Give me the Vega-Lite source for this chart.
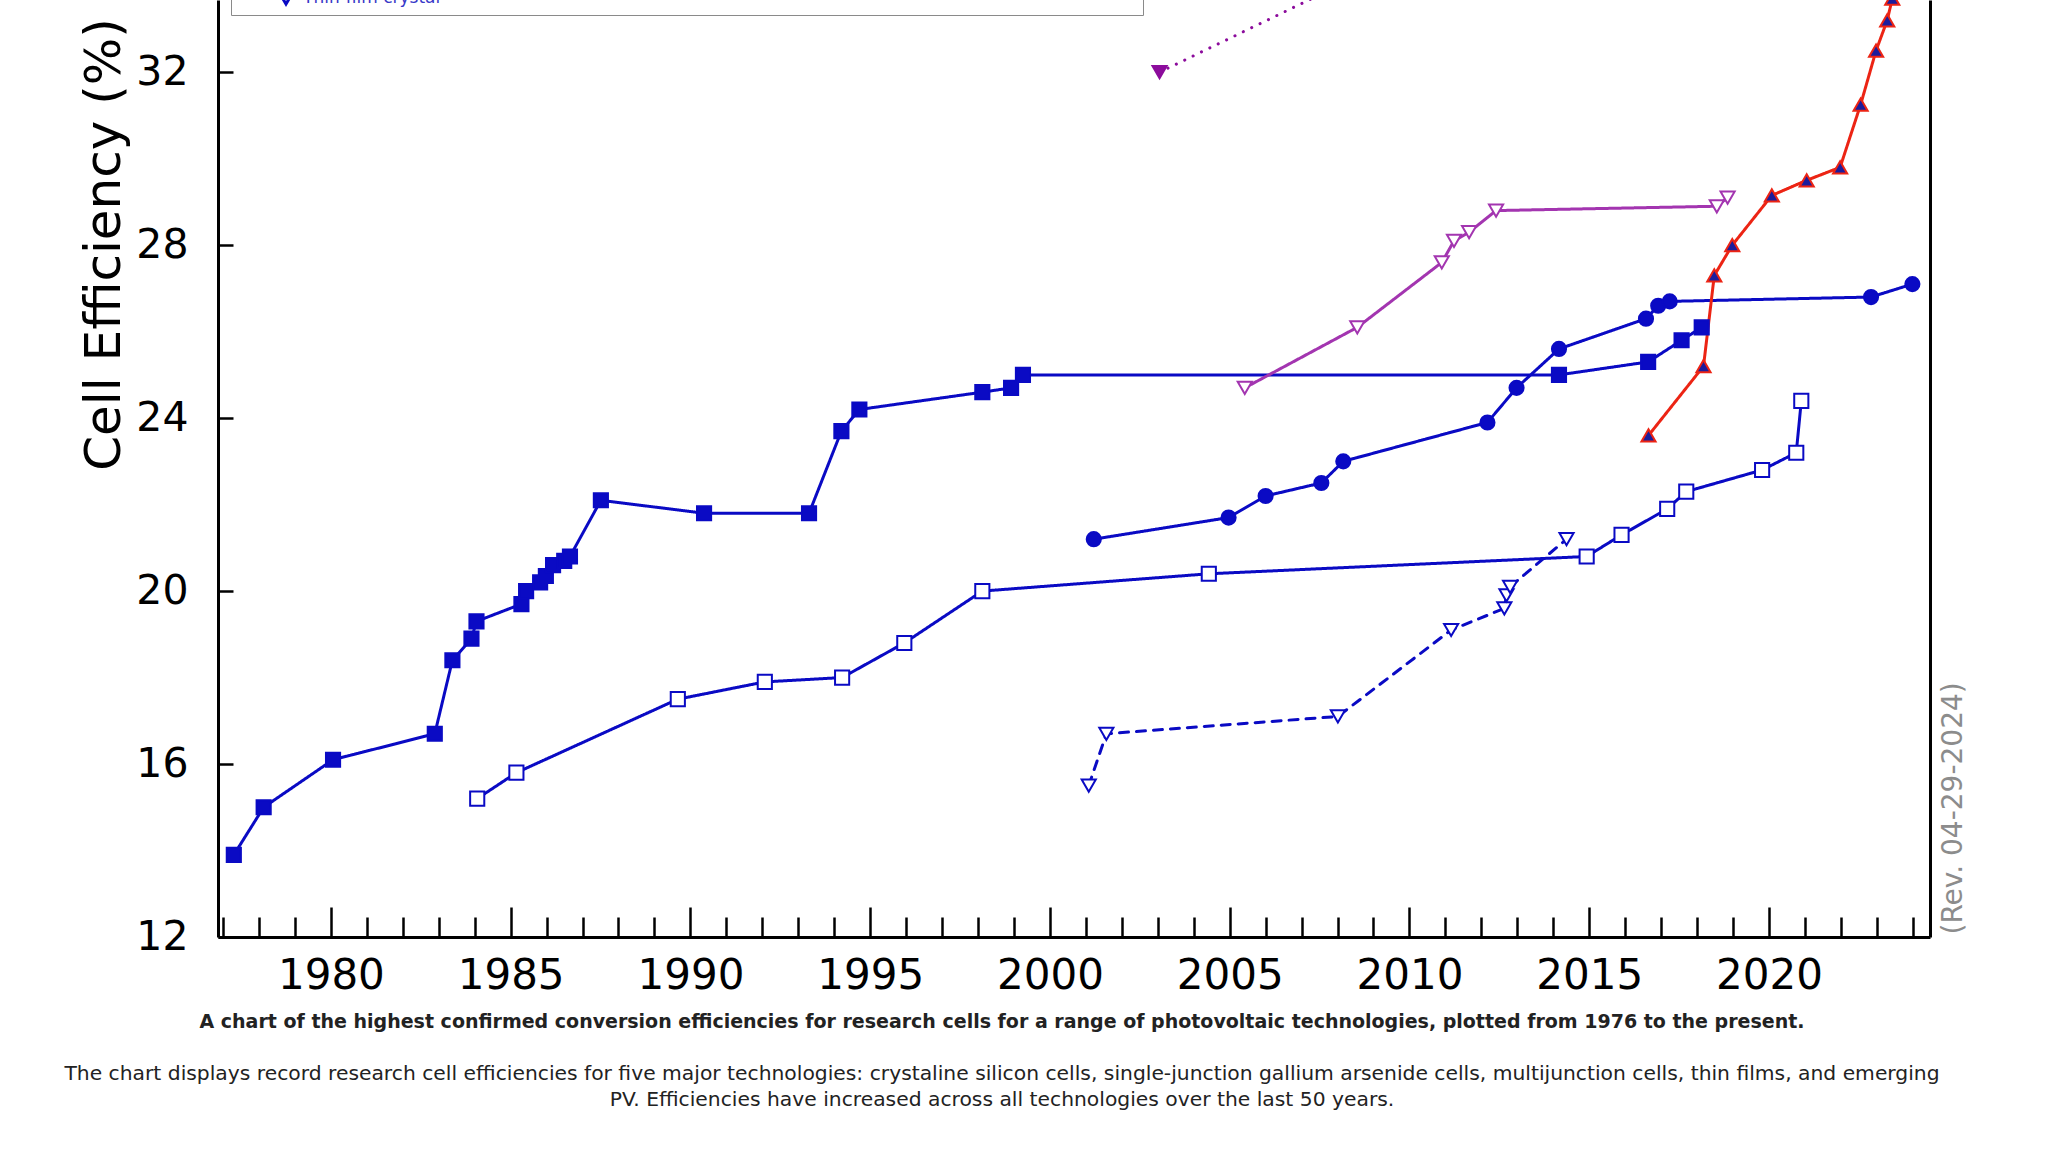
{
  "$schema": "https://vega.github.io/schema/vega-lite/v6.json",
  "width": 1712,
  "height": 937,
  "autosize": {"type": "none"},
  "padding": {"left": 218, "top": 0, "right": 118, "bottom": 215},
  "background": "white",
  "config": {
    "view": {"stroke": null},
    "font": "DejaVu Sans"
  },
  "title": {
    "text": "A chart of the highest confirmed conversion efficiencies for research cells for a range of photovoltaic technologies, plotted from 1976 to the present.",
    "subtitle": [
      "The chart displays record research cell efficiencies for five major technologies: crystaline silicon cells, single-junction gallium arsenide cells, multijunction cells, thin films, and emerging",
      "PV. Efficiencies have increased across all technologies over the last 50 years."
    ],
    "orient": "bottom",
    "anchor": "middle",
    "frame": "group",
    "dx": -72,
    "offset": 7,
    "font": "DejaVu Sans",
    "fontSize": 19,
    "fontWeight": "bold",
    "color": "#222222",
    "subtitleFont": "DejaVu Sans",
    "subtitleFontSize": 20.3,
    "subtitleColor": "#222222",
    "subtitlePadding": 32,
    "subtitleLineHeight": 26
  },
  "data": {
    "values": [
      {"series": "Single crystal (non-concentrator)", "year": 1977.3, "efficiency": 13.9},
      {"series": "Single crystal (non-concentrator)", "year": 1978.13, "efficiency": 15.0},
      {"series": "Single crystal (non-concentrator)", "year": 1980.06, "efficiency": 16.1},
      {"series": "Single crystal (non-concentrator)", "year": 1982.89, "efficiency": 16.7},
      {"series": "Single crystal (non-concentrator)", "year": 1983.38, "efficiency": 18.4},
      {"series": "Single crystal (non-concentrator)", "year": 1983.91, "efficiency": 18.9},
      {"series": "Single crystal (non-concentrator)", "year": 1984.05, "efficiency": 19.3},
      {"series": "Single crystal (non-concentrator)", "year": 1985.3, "efficiency": 19.7},
      {"series": "Single crystal (non-concentrator)", "year": 1985.43, "efficiency": 20.0},
      {"series": "Single crystal (non-concentrator)", "year": 1985.82, "efficiency": 20.2},
      {"series": "Single crystal (non-concentrator)", "year": 1985.98, "efficiency": 20.35},
      {"series": "Single crystal (non-concentrator)", "year": 1986.18, "efficiency": 20.6},
      {"series": "Single crystal (non-concentrator)", "year": 1986.49, "efficiency": 20.7},
      {"series": "Single crystal (non-concentrator)", "year": 1986.65, "efficiency": 20.8},
      {"series": "Single crystal (non-concentrator)", "year": 1987.51, "efficiency": 22.1},
      {"series": "Single crystal (non-concentrator)", "year": 1990.38, "efficiency": 21.8},
      {"series": "Single crystal (non-concentrator)", "year": 1993.3, "efficiency": 21.8},
      {"series": "Single crystal (non-concentrator)", "year": 1994.2, "efficiency": 23.7},
      {"series": "Single crystal (non-concentrator)", "year": 1994.7, "efficiency": 24.2},
      {"series": "Single crystal (non-concentrator)", "year": 1998.12, "efficiency": 24.6},
      {"series": "Single crystal (non-concentrator)", "year": 1998.92, "efficiency": 24.7},
      {"series": "Single crystal (non-concentrator)", "year": 1999.25, "efficiency": 25.0},
      {"series": "Single crystal (non-concentrator)", "year": 2014.16, "efficiency": 25.0},
      {"series": "Single crystal (non-concentrator)", "year": 2016.64, "efficiency": 25.3},
      {"series": "Single crystal (non-concentrator)", "year": 2017.57, "efficiency": 25.8},
      {"series": "Single crystal (non-concentrator)", "year": 2018.13, "efficiency": 26.1},

      {"series": "Multicrystalline", "year": 1984.07, "efficiency": 15.2},
      {"series": "Multicrystalline", "year": 1985.16, "efficiency": 15.8},
      {"series": "Multicrystalline", "year": 1989.65, "efficiency": 17.5},
      {"series": "Multicrystalline", "year": 1992.07, "efficiency": 17.9},
      {"series": "Multicrystalline", "year": 1994.22, "efficiency": 18.0},
      {"series": "Multicrystalline", "year": 1995.95, "efficiency": 18.8},
      {"series": "Multicrystalline", "year": 1998.12, "efficiency": 20.0},
      {"series": "Multicrystalline", "year": 2004.42, "efficiency": 20.4},
      {"series": "Multicrystalline", "year": 2014.93, "efficiency": 20.8},
      {"series": "Multicrystalline", "year": 2015.9, "efficiency": 21.3},
      {"series": "Multicrystalline", "year": 2017.17, "efficiency": 21.9},
      {"series": "Multicrystalline", "year": 2017.7, "efficiency": 22.3},
      {"series": "Multicrystalline", "year": 2019.81, "efficiency": 22.8},
      {"series": "Multicrystalline", "year": 2020.76, "efficiency": 23.2},
      {"series": "Multicrystalline", "year": 2020.9, "efficiency": 24.4},

      {"series": "Silicon heterostructures (HIT)", "year": 2001.22, "efficiency": 21.2},
      {"series": "Silicon heterostructures (HIT)", "year": 2004.97, "efficiency": 21.7},
      {"series": "Silicon heterostructures (HIT)", "year": 2006.0, "efficiency": 22.2},
      {"series": "Silicon heterostructures (HIT)", "year": 2007.55, "efficiency": 22.5},
      {"series": "Silicon heterostructures (HIT)", "year": 2008.16, "efficiency": 23.0},
      {"series": "Silicon heterostructures (HIT)", "year": 2012.17, "efficiency": 23.9},
      {"series": "Silicon heterostructures (HIT)", "year": 2012.98, "efficiency": 24.7},
      {"series": "Silicon heterostructures (HIT)", "year": 2014.16, "efficiency": 25.6},
      {"series": "Silicon heterostructures (HIT)", "year": 2016.58, "efficiency": 26.3},
      {"series": "Silicon heterostructures (HIT)", "year": 2016.92, "efficiency": 26.6},
      {"series": "Silicon heterostructures (HIT)", "year": 2017.24, "efficiency": 26.7},
      {"series": "Silicon heterostructures (HIT)", "year": 2022.84, "efficiency": 26.8},
      {"series": "Silicon heterostructures (HIT)", "year": 2023.99, "efficiency": 27.1},

      {"series": "GaAs thin-film crystal", "year": 2005.42, "efficiency": 24.7},
      {"series": "GaAs thin-film crystal", "year": 2008.55, "efficiency": 26.1},
      {"series": "GaAs thin-film crystal", "year": 2010.9, "efficiency": 27.6},
      {"series": "GaAs thin-film crystal", "year": 2011.24, "efficiency": 28.1},
      {"series": "GaAs thin-film crystal", "year": 2011.66, "efficiency": 28.3},
      {"series": "GaAs thin-film crystal", "year": 2012.41, "efficiency": 28.8},
      {"series": "GaAs thin-film crystal", "year": 2018.55, "efficiency": 28.9},
      {"series": "GaAs thin-film crystal", "year": 2018.85, "efficiency": 29.1},

      {"series": "Three-junction (non-concentrator)", "year": 2003.05, "efficiency": 32.0},
      {"series": "Three-junction (non-concentrator)", "year": 2013.0, "efficiency": 36.0},

      {"series": "Perovskite/Si tandem (monolithic)", "year": 2016.65, "efficiency": 23.6},
      {"series": "Perovskite/Si tandem (monolithic)", "year": 2018.18, "efficiency": 25.2},
      {"series": "Perovskite/Si tandem (monolithic)", "year": 2018.48, "efficiency": 27.3},
      {"series": "Perovskite/Si tandem (monolithic)", "year": 2018.98, "efficiency": 28.0},
      {"series": "Perovskite/Si tandem (monolithic)", "year": 2020.08, "efficiency": 29.15},
      {"series": "Perovskite/Si tandem (monolithic)", "year": 2021.05, "efficiency": 29.5},
      {"series": "Perovskite/Si tandem (monolithic)", "year": 2021.98, "efficiency": 29.8},
      {"series": "Perovskite/Si tandem (monolithic)", "year": 2022.55, "efficiency": 31.25},
      {"series": "Perovskite/Si tandem (monolithic)", "year": 2022.98, "efficiency": 32.5},
      {"series": "Perovskite/Si tandem (monolithic)", "year": 2023.29, "efficiency": 33.2},
      {"series": "Perovskite/Si tandem (monolithic)", "year": 2023.43, "efficiency": 33.7},

      {"series": "Thin-film crystal", "year": 2001.08, "efficiency": 15.5},
      {"series": "Thin-film crystal", "year": 2001.57, "efficiency": 16.7},
      {"series": "Thin-film crystal", "year": 2008.01, "efficiency": 17.1},
      {"series": "Thin-film crystal", "year": 2011.16, "efficiency": 19.1},
      {"series": "Thin-film crystal", "year": 2012.64, "efficiency": 19.6},
      {"series": "Thin-film crystal", "year": 2012.7, "efficiency": 19.9},
      {"series": "Thin-film crystal", "year": 2012.8, "efficiency": 20.1},
      {"series": "Thin-film crystal", "year": 2014.37, "efficiency": 21.2}
    ]
  },
  "encoding": {
    "x": {
      "field": "year",
      "type": "quantitative",
      "scale": {"domain": [1976.86, 2024.48], "nice": false, "zero": false},
      "axis": {
        "title": null,
        "grid": false,
        "values": [1977, 1978, 1979, 1980, 1981, 1982, 1983, 1984, 1985, 1986, 1987, 1988, 1989, 1990, 1991, 1992, 1993, 1994, 1995, 1996, 1997, 1998, 1999, 2000, 2001, 2002, 2003, 2004, 2005, 2006, 2007, 2008, 2009, 2010, 2011, 2012, 2013, 2014, 2015, 2016, 2017, 2018, 2019, 2020, 2021, 2022, 2023, 2024],
        "format": "d",
        "labelExpr": "datum.value % 5 === 0 ? datum.label : ''",
        "tickSize": {"condition": {"test": "datum.value % 5 === 0", "value": -30}, "value": -20},
        "tickWidth": 2.5,
        "tickColor": "black",
        "domainColor": "black",
        "domainWidth": 3,
        "labelFont": "DejaVu Sans",
        "labelFontSize": 42,
        "labelColor": "black",
        "labelPadding": 48,
        "labelOverlap": false,
        "labelFlush": false,
        "labelBound": false
      }
    }
  },
  "layer": [
    {
      "mark": {"type": "line", "clip": true, "strokeCap": "round", "strokeJoin": "round"},
      "encoding": {
        "y": {
          "field": "efficiency",
          "type": "quantitative",
          "scale": {"domain": [12, 33.67], "nice": false, "zero": false},
          "axis": {
            "orient": "left",
            "grid": false,
            "values": [12, 16, 20, 24, 28, 32],
            "tickSize": -15,
            "tickWidth": 2.5,
            "tickColor": "black",
            "domainColor": "black",
            "domainWidth": 3,
            "labelFont": "DejaVu Sans",
            "labelFontSize": 41,
            "labelColor": "black",
            "labelPadding": 45,
            "title": "Cell Efficiency (%)",
            "titleFont": "DejaVu Sans",
            "titleFontSize": 50,
            "titleFontWeight": "normal",
            "titleColor": "black",
            "titleAngle": 270,
            "titleAlign": "center",
            "titleBaseline": "middle",
            "titleX": -114,
            "titleY": 244
          }
        },
        "stroke": {
          "field": "series",
          "type": "nominal",
          "title": null,
          "scale": {
            "domain": ["Single crystal (non-concentrator)", "Multicrystalline", "Silicon heterostructures (HIT)", "GaAs thin-film crystal", "Three-junction (non-concentrator)", "Perovskite/Si tandem (monolithic)", "Thin-film crystal"],
            "range": ["#0a0ac4", "#0a0ac4", "#0a0ac4", "#a335b0", "#8c0c9c", "#ec2414", "#0a0ac4"]
          },
          "legend": {
            "values": ["Single crystal (non-concentrator)", "Multicrystalline", "Silicon heterostructures (HIT)", "GaAs thin-film crystal", "Three-junction (non-concentrator)", "Perovskite/Si tandem (monolithic)", "Thin-film crystal"],
            "orient": "none",
            "direction": "horizontal",
            "legendX": 13,
            "legendY": -84,
            "columns": 3,
            "columnPadding": 55,
            "rowPadding": 8,
            "padding": 4,
            "fillColor": "white",
            "strokeColor": "#8a8a8a",
            "labelFont": "DejaVu Sans",
            "labelFontSize": 17,
            "labelColor": "#3838c8",
            "labelLimit": 200,
            "symbolOffset": 42,
            "labelOffset": 8,
            "symbolSize": 180,
            "symbolStrokeWidth": 2
          }
        },
        "strokeDash": {
          "field": "series",
          "type": "nominal",
          "legend": null,
          "scale": {
            "domain": ["Single crystal (non-concentrator)", "Multicrystalline", "Silicon heterostructures (HIT)", "GaAs thin-film crystal", "Three-junction (non-concentrator)", "Perovskite/Si tandem (monolithic)", "Thin-film crystal"],
            "range": [[1, 0], [1, 0], [1, 0], [1, 0], [0.1, 9.2], [1, 0], [9, 8]]
          }
        },
        "strokeWidth": {
          "field": "series",
          "type": "nominal",
          "legend": null,
          "scale": {
            "domain": ["Single crystal (non-concentrator)", "Multicrystalline", "Silicon heterostructures (HIT)", "GaAs thin-film crystal", "Three-junction (non-concentrator)", "Perovskite/Si tandem (monolithic)", "Thin-film crystal"],
            "range": [3, 3, 3, 2.6, 3.4, 2.6, 3]
          }
        }
      }
    },
    {
      "mark": {"type": "point", "clip": true, "opacity": 1, "strokeWidth": 2},
      "encoding": {
        "y": {
          "field": "efficiency",
          "type": "quantitative",
          "scale": {"domain": [12, 33.67], "nice": false, "zero": false},
          "axis": {
            "orient": "right",
            "grid": false,
            "ticks": false,
            "labels": false,
            "domainColor": "black",
            "domainWidth": 3,
            "title": "(Rev. 04-29-2024)",
            "titleFont": "DejaVu Sans",
            "titleFontSize": 28,
            "titleFontWeight": "normal",
            "titleColor": "#8c8c8c",
            "titleAngle": 270,
            "titleAlign": "left",
            "titleBaseline": "middle",
            "titleX": 23,
            "titleY": 934
          }
        },
        "stroke": {
          "field": "series",
          "type": "nominal",
          "title": null,
          "scale": {
            "domain": ["Single crystal (non-concentrator)", "Multicrystalline", "Silicon heterostructures (HIT)", "GaAs thin-film crystal", "Three-junction (non-concentrator)", "Perovskite/Si tandem (monolithic)", "Thin-film crystal"],
            "range": ["#0a0ac4", "#0a0ac4", "#0a0ac4", "#a335b0", "#8c0c9c", "#ec2414", "#0a0ac4"]
          }
        },
        "fill": {
          "field": "series",
          "type": "nominal",
          "title": null,
          "scale": {
            "domain": ["Single crystal (non-concentrator)", "Multicrystalline", "Silicon heterostructures (HIT)", "GaAs thin-film crystal", "Three-junction (non-concentrator)", "Perovskite/Si tandem (monolithic)", "Thin-film crystal"],
            "range": ["#0a0ac4", "#ffffff", "#0a0ac4", "#ffffff", "#8c0c9c", "#1c1c9c", "#ffffff"]
          }
        },
        "shape": {
          "field": "series",
          "type": "nominal",
          "title": null,
          "scale": {
            "domain": ["Single crystal (non-concentrator)", "Multicrystalline", "Silicon heterostructures (HIT)", "GaAs thin-film crystal", "Three-junction (non-concentrator)", "Perovskite/Si tandem (monolithic)", "Thin-film crystal"],
            "range": ["square", "square", "circle", "triangle-down", "triangle-down", "triangle-up", "triangle-down"]
          }
        },
        "size": {
          "field": "series",
          "type": "nominal",
          "legend": null,
          "scale": {
            "domain": ["Single crystal (non-concentrator)", "Multicrystalline", "Silicon heterostructures (HIT)", "GaAs thin-film crystal", "Three-junction (non-concentrator)", "Perovskite/Si tandem (monolithic)", "Thin-film crystal"],
            "range": [200, 200, 210, 190, 225, 200, 170]
          }
        }
      }
    }
  ],
  "resolve": {"axis": {"y": "independent"}}
}
